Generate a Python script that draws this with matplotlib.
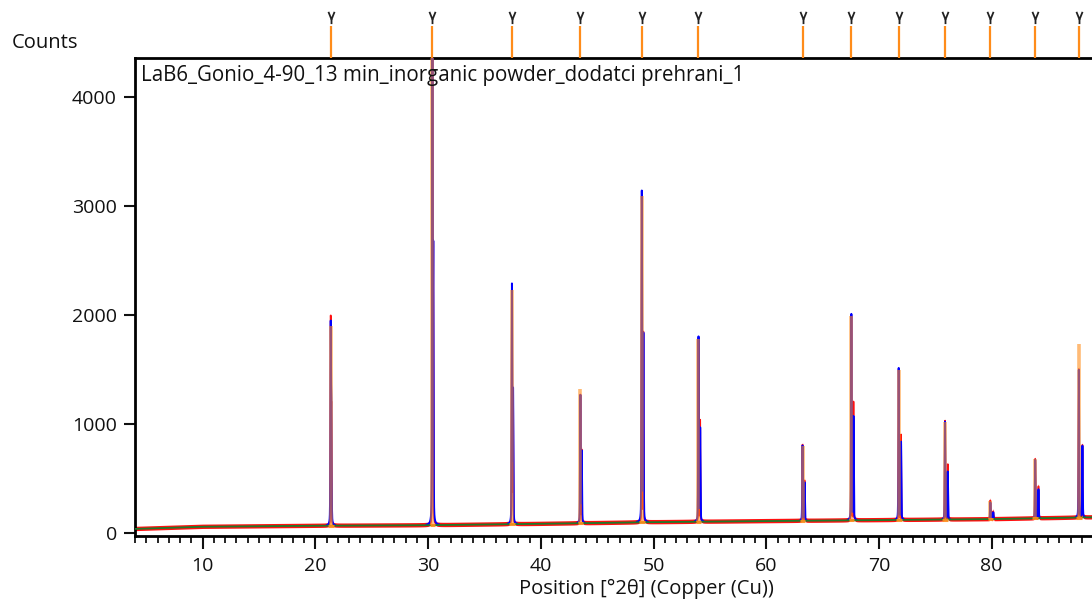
import numpy as np
import matplotlib
matplotlib.use("Agg")
import matplotlib.pyplot as plt
import matplotlib.transforms as mtransforms
from matplotlib.path import Path
from matplotlib.ticker import MultipleLocator

plt.rcParams['font.family'] = ['Open Sans', 'DejaVu Sans']

# ---- data ----
title = "LaB6_Gonio_4-90_13 min_inorganic powder_dodatci prehrani_1"
peak_pos = [21.36, 30.38, 37.44, 43.51, 48.96, 53.99, 63.22, 67.55, 71.75, 75.86, 79.88, 83.86, 87.73]
obs_h = [1950, 4400, 2250, 1270, 3080, 1790, 810, 2000, 1510, 1030, 300, 680, 1510]
calc_h = [1840, 4400, 2260, 1260, 3120, 1800, 800, 2010, 1515, 1020, 280, 670, 1500]
ref_h = [1900, 4400, 2230, 1320, 3090, 1780, 800, 1990, 1500, 1020, 290, 680, 1730]
ka2_pos = [21.42, 30.46, 37.54, 43.63, 49.10, 54.14, 63.40, 67.74, 71.96, 76.10, 80.14, 84.15, 88.05]
obs_ka2 = [1120, 2600, 1300, 760, 1830, 1030, 480, 1200, 900, 630, 200, 430, 810]
calc_ka2 = [1100, 2500, 1280, 740, 1800, 950, 460, 1060, 830, 560, 190, 400, 800]
bg_x = [4, 10, 20, 30, 40, 50, 60, 70, 80, 89]
bg_y = [38, 58, 67, 72, 85, 100, 110, 119, 128, 145]
x_ticks = [10, 20, 30, 40, 50, 60, 70, 80]
y_ticks = [0, 1000, 2000, 3000, 4000]

RED = "#ff1010"
BLUE = "#0000ff"
ORANGE = "#ff8c1a"
GREEN = "#1f7a2a"

fig = plt.figure(figsize=(10.92, 6.01), dpi=100)
ax = fig.add_axes([135 / 1092, 65 / 601, 1 - 135 / 1092, (536 - 58) / 601])

x = np.arange(4.0, 90.0, 0.004)
bg = np.interp(x, bg_x, bg_y)


def pv(xx, x0, h, w, eta=0.3):
    d = (xx - x0) / w
    return h * (eta / (1 + 4 * d * d) + (1 - eta) * np.exp(-4 * np.log(2) * d * d))


obs = bg.copy()
calc = bg.copy()
for p, h, p2, h2 in zip(peak_pos, obs_h, ka2_pos, obs_ka2):
    b = np.interp(p, bg_x, bg_y)
    obs += pv(x, p, h - b, 0.05, 0.2) + pv(x, p2, h2 - b, 0.05, 0.2)
for p, h, p2, h2 in zip(peak_pos, calc_h, ka2_pos, calc_ka2):
    b = np.interp(p, bg_x, bg_y)
    calc += pv(x, p, h - b, 0.06, 0.3) + pv(x, p2, h2 - b, 0.06, 0.3)

# hide the calculated curve where it merely follows the background
calc_vis = np.where(calc - bg > 6, calc, np.nan)

ax.fill_between(x, obs - 16, obs + 24, color=RED, lw=0, zorder=2)
ax.plot(x, obs, color=RED, lw=1.2, zorder=2)
ax.plot(x, calc_vis, color=BLUE, lw=1.4, zorder=3)
ax.plot(bg_x, bg_y, color=GREEN, lw=1.3, zorder=4)

ref_base = np.interp(peak_pos, bg_x, bg_y)
ax.vlines(peak_pos, ref_base, ref_h, color=ORANGE, lw=2.6, alpha=0.6, zorder=5)
ax.hlines(ref_base, np.array(peak_pos) - 0.25, np.array(peak_pos) + 0.25,
          color=ORANGE, lw=2.2, alpha=0.9, zorder=5)

# top reference markers: a "V" with a short stem
vmark = Path([(-0.4, 1.0), (0.0, 0.0), (0.4, 1.0), (0.0, 0.0), (0.0, -0.6)],
             [Path.MOVETO, Path.LINETO, Path.LINETO, Path.MOVETO, Path.LINETO])
trans = mtransforms.blended_transform_factory(ax.transData, ax.transAxes)
ax.vlines(peak_pos, 1.0, 1.066, transform=trans, color=ORANGE, lw=1.6, clip_on=False, zorder=6)
ax.plot(peak_pos, [1.082] * len(peak_pos), ls='none', marker=vmark, ms=11, mew=1.3,
        mfc='none', color='#222222', transform=trans, clip_on=False, zorder=6)

ax.set_xlim(4, 88.9)
ax.set_ylim(-27, 4358)
ax.set_xticks(x_ticks)
ax.set_yticks(y_ticks)
ax.xaxis.set_minor_locator(MultipleLocator(1))
ax.tick_params(axis='x', which='major', length=9, width=1.5, direction='out', labelsize=14, pad=6,
               colors='#111111')
ax.tick_params(axis='x', which='minor', length=5, width=1.2, direction='out')
ax.tick_params(axis='y', which='major', length=8, width=1.5, direction='out', labelsize=14, pad=5,
               colors='#111111')
for s in ['left', 'top', 'bottom']:
    ax.spines[s].set_linewidth(2)
    ax.spines[s].set_color('black')
ax.spines['right'].set_visible(False)

ax.text(0.006, 0.985, title, transform=ax.transAxes, ha='left', va='top', fontsize=14.8,
        color='#111111', zorder=7)
fig.text(12 / 1092, 1 - 43 / 601, "Counts", ha='left', va='center', fontsize=14.5, color='#111111')
fig.text(646 / 1092, 1 - 589 / 601, "Position [°2θ] (Copper (Cu))", ha='center', va='center',
         fontsize=14.5, color='#111111')

fig.savefig("out.png", dpi=100)
